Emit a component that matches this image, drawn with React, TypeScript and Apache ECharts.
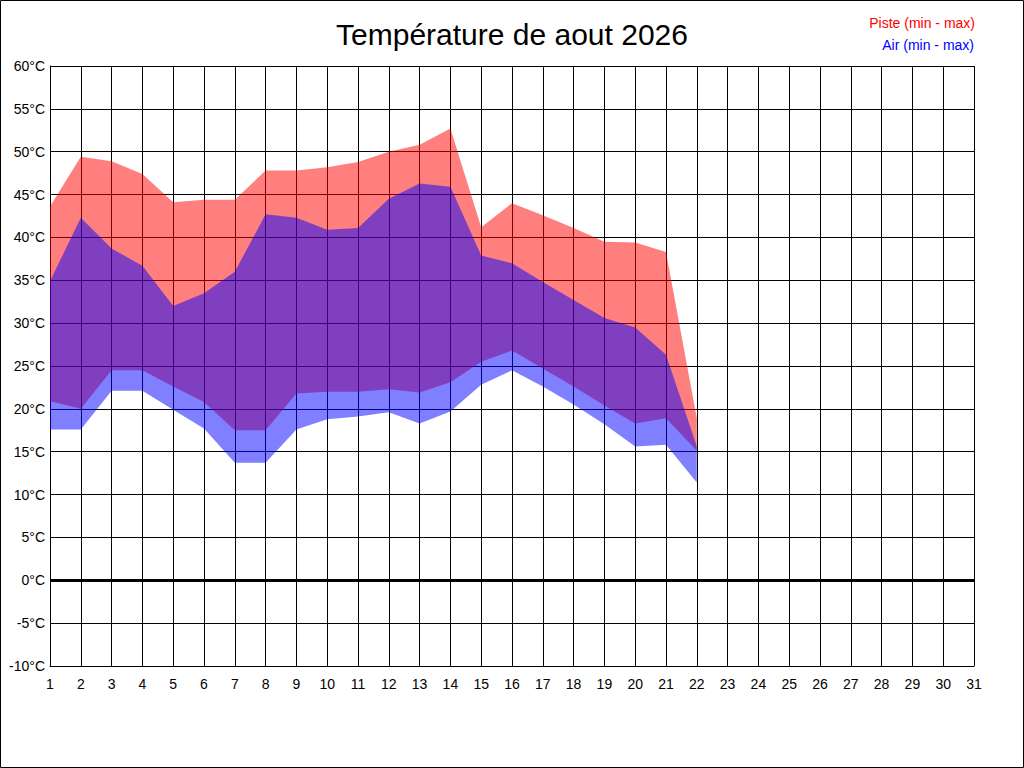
import React, { useEffect, useRef } from "react";
import * as echarts from "echarts";

const days: string[] = Array.from({ length: 31 }, (_, i) => String(i + 1));

const pisteMax: number[] = [43.6, 49.4, 48.9, 47.4, 44.1, 44.4, 44.4, 47.8, 47.8, 48.2, 48.8, 50.0, 50.8, 52.7, 41.2, 44.0, 42.6, 41.1, 39.5, 39.4, 38.3, 18.9];
const pisteMin: number[] = [20.9, 20.0, 24.5, 24.5, 22.6, 20.8, 17.5, 17.5, 21.8, 22.0, 22.0, 22.3, 21.9, 23.1, 25.5, 26.8, 24.7, 22.6, 20.4, 18.3, 18.9, 15.1];
const airMax: number[] = [34.9, 42.3, 38.7, 36.7, 32.0, 33.5, 36.0, 42.7, 42.3, 40.9, 41.1, 44.5, 46.3, 45.9, 37.9, 37.0, 34.8, 32.7, 30.6, 29.5, 26.3, 15.6];
const airMin: number[] = [17.6, 17.6, 22.1, 22.1, 19.9, 17.7, 13.7, 13.7, 17.6, 18.8, 19.1, 19.6, 18.3, 19.7, 22.8, 24.5, 22.6, 20.5, 18.2, 15.6, 15.8, 11.4];

const yTicks = { min: -10, max: 60, interval: 5 };
const titleText = "Température de aout 2026";
const legendPiste = "Piste (min - max)";
const legendAir = "Air (min - max)";

const FONT = "'Liberation Sans', Arial, sans-serif";

export default function App() {
  const ref = useRef<HTMLDivElement>(null);
  useEffect(() => {
    if (!ref.current) return;
    const chart = echarts.init(ref.current, null, { renderer: "svg" });
    const pisteRange = pisteMax.map((v, i) => +(v - pisteMin[i]).toFixed(2));
    const airRange = airMax.map((v, i) => +(v - airMin[i]).toFixed(2));
    chart.setOption({
      animation: false,
      backgroundColor: "#fff",
      textStyle: { fontFamily: FONT },
      title: {
        text: titleText,
        left: "center",
        top: 14,
        textStyle: { fontSize: 30, fontWeight: "normal", color: "#000", fontFamily: FONT },
      },
      grid: { left: 50, right: 50, top: 66, bottom: 102, containLabel: false },
      xAxis: {
        type: "category",
        boundaryGap: false,
        data: days,
        axisTick: { show: false },
        axisLine: { show: true, onZero: false, lineStyle: { color: "#000", width: 1 } },
        splitLine: { show: true, interval: 0, lineStyle: { color: "#000", width: 1 } },
        axisLabel: { interval: 0, color: "#000", fontSize: 14, margin: 11, fontFamily: FONT },
      },
      yAxis: {
        type: "value",
        min: yTicks.min,
        max: yTicks.max,
        interval: yTicks.interval,
        axisLine: { show: true, lineStyle: { color: "#000", width: 1 } },
        axisTick: { show: false },
        splitLine: { show: true, lineStyle: { color: "#000", width: 1 } },
        axisLabel: { formatter: "{value}°C", color: "#000", fontSize: 14, margin: 5, fontFamily: FONT },
      },
      series: [
        {
          name: "pisteBase",
          type: "line",
          stack: "piste",
          data: pisteMin,
          symbol: "none",
          lineStyle: { opacity: 0 },
          silent: true,
          markLine: {
            silent: true,
            symbol: "none",
            label: { show: false },
            lineStyle: { color: "#000", width: 3, type: "solid" },
            data: [{ yAxis: 0 }],
          },
        },
        {
          name: legendPiste,
          type: "line",
          stack: "piste",
          data: pisteRange,
          symbol: "none",
          lineStyle: { width: 0, opacity: 0 },
          areaStyle: { color: "rgba(255,0,0,0.5)", opacity: 1 },
          silent: true,
        },
        {
          name: "airBase",
          type: "line",
          stack: "air",
          data: airMin,
          symbol: "none",
          lineStyle: { opacity: 0 },
          silent: true,
        },
        {
          name: legendAir,
          type: "line",
          stack: "air",
          data: airRange,
          symbol: "none",
          lineStyle: { width: 0, opacity: 0 },
          areaStyle: { color: "rgba(0,0,255,0.5)", opacity: 1 },
          silent: true,
        },
      ],
      graphic: [
        {
          type: "rect",
          silent: true,
          shape: { x: 0.5, y: 0.5, width: 1023, height: 767 },
          style: { fill: "none", stroke: "#000", lineWidth: 1 },
        },
        {
          type: "text",
          x: 975,
          y: 23,
          style: { text: legendPiste, fill: "#ff0000", font: `14px ${FONT}`, textAlign: "right", textVerticalAlign: "middle" },
        },
        {
          type: "text",
          x: 974,
          y: 45,
          style: { text: legendAir, fill: "#0000ff", font: `14px ${FONT}`, textAlign: "right", textVerticalAlign: "middle" },
        },
      ],
    });
    return () => chart.dispose();
  }, []);
  return <div ref={ref} style={{ position: "absolute", left: 0, top: 0, width: 1024, height: 768 }} />;
}
